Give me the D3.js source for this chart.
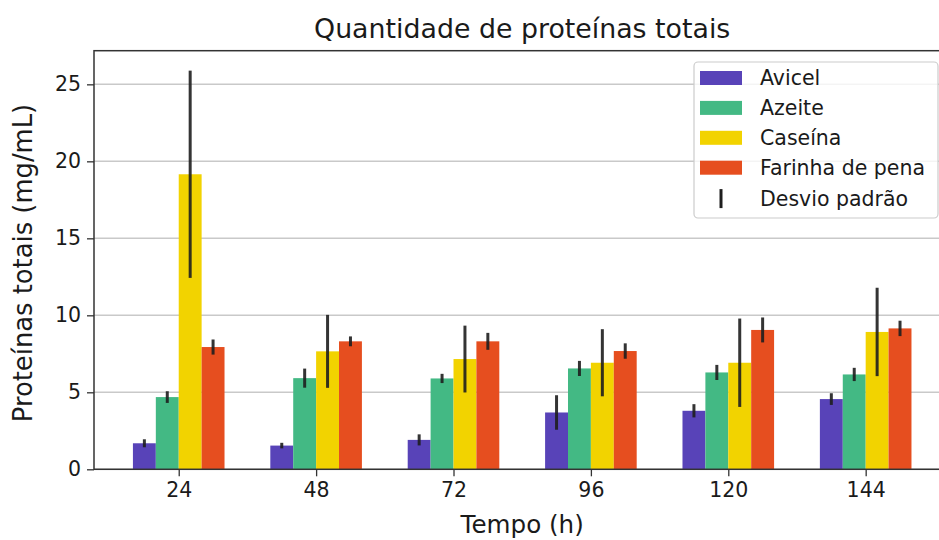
<!DOCTYPE html>
<html>
<head>
<meta charset="utf-8">
<script src="https://cdn.jsdelivr.net/npm/d3@7"></script>
<style>
  body { margin: 0; background: white; }
  text { font-family: "DejaVu Sans", sans-serif; fill: #1a1a1a; }
</style>
</head>
<body>
<svg id="fig" width="939" height="540"></svg>
<script>
'use strict';

// data
const times = [24, 48, 72, 96, 120, 144];
const series_names = ['Avicel', 'Azeite', 'Caseína', 'Farinha de pena'];
const series_colors = ['#5843b8', '#43b984', '#f2d300', '#e64e1f'];
const avicel = [1.69, 1.54, 1.91, 3.69, 3.80, 4.56];
const avicel_sd = [0.26, 0.18, 0.36, 1.12, 0.43, 0.38];
const azeite = [4.69, 5.92, 5.90, 6.55, 6.29, 6.16];
const azeite_sd = [0.38, 0.62, 0.30, 0.49, 0.49, 0.43];
const caseina = [19.16, 7.66, 7.16, 6.92, 6.92, 8.92];
const caseina_sd = [6.73, 2.37, 2.17, 2.18, 2.87, 2.87];
const farinha = [7.94, 8.31, 8.31, 7.68, 9.05, 9.15];
const farinha_sd = [0.49, 0.32, 0.55, 0.50, 0.81, 0.50];
const y_ticks = [0, 5, 10, 15, 20, 25];

const values = [avicel, azeite, caseina, farinha];
const sds = [avicel_sd, azeite_sd, caseina_sd, farinha_sd];

// bar geometry in hours (data units)
const bar_w = 4;
const offsets = [-6, -2, 2, 6];

const svg = d3.select('#fig');
const m_left = 94, m_right = 950.4, m_top = 50.7, m_bottom = 469.3;

// build a flat list for d3
const datalist = [];
for (let s = 0; s < series_names.length; s++) {
    for (let i = 0; i < times.length; i++) {
        datalist.push({
            s: s,
            t: times[i],
            val: values[s][i],
            sd: sds[s][i]
        });
    }
}

const x_lo = times[0] - 8, x_hi = times[times.length - 1] + 8;
const x_pad = (x_hi - x_lo) * 0.05;
const x = d3.scaleLinear()
    .domain([x_lo - x_pad, x_hi + x_pad])
    .range([m_left, m_right]);

const y_max = d3.max(datalist, d => d.val + d.sd) * 1.05;
const y = d3.scaleLinear()
    .domain([0, y_max])
    .range([m_bottom, m_top]);

// grid
svg.append('g')
    .selectAll('line')
    .data(y_ticks)
    .enter()
    .append('line')
    .attr('x1', m_left)
    .attr('x2', m_right)
    .attr('y1', d => y(d))
    .attr('y2', d => y(d))
    .attr('stroke', '#c9c9c9')
    .attr('stroke-width', 1.5);

// bars
svg.append('g')
    .selectAll('rect')
    .data(datalist)
    .enter()
    .append('rect')
    .attr('x', d => x(d.t + offsets[d.s] - bar_w / 2))
    .attr('width', d => x(d.t + offsets[d.s] + bar_w / 2) - x(d.t + offsets[d.s] - bar_w / 2))
    .attr('y', d => y(d.val))
    .attr('height', d => y(0) - y(d.val))
    .attr('fill', d => series_colors[d.s]);

// error bars
svg.append('g')
    .selectAll('line')
    .data(datalist)
    .enter()
    .append('line')
    .attr('x1', d => x(d.t + offsets[d.s]))
    .attr('x2', d => x(d.t + offsets[d.s]))
    .attr('y1', d => y(d.val - d.sd))
    .attr('y2', d => y(d.val + d.sd))
    .attr('stroke', '#1e1e1e')
    .attr('stroke-opacity', 0.9)
    .attr('stroke-width', 3);

// frame
svg.append('rect')
    .attr('x', m_left)
    .attr('y', m_top)
    .attr('width', m_right - m_left)
    .attr('height', m_bottom - m_top)
    .attr('fill', 'none')
    .attr('stroke', '#333')
    .attr('stroke-width', 1.5);

// y axis
const y_axis = svg.append('g')
    .attr('transform', 'translate(' + m_left + ',0)')
    .call(d3.axisLeft(y).tickValues(y_ticks).tickSize(7).tickPadding(6));
y_axis.select('.domain').remove();
y_axis.selectAll('.tick line').attr('stroke', '#333').attr('stroke-width', 1.3);
y_axis.selectAll('.tick text')
    .attr('font-size', 20.5)
    .attr('font-family', '"DejaVu Sans", sans-serif')
    .attr('fill', '#1a1a1a');

// x axis
const x_axis = svg.append('g')
    .attr('transform', 'translate(0,' + m_bottom + ')')
    .call(d3.axisBottom(x).tickValues(times).tickFormat(d3.format('d')).tickSize(7).tickPadding(6));
x_axis.select('.domain').remove();
x_axis.selectAll('.tick line').attr('stroke', '#333').attr('stroke-width', 1.3);
x_axis.selectAll('.tick text')
    .attr('font-size', 20.5)
    .attr('font-family', '"DejaVu Sans", sans-serif')
    .attr('fill', '#1a1a1a');

// title and axis labels
svg.append('text')
    .attr('x', (m_left + m_right) / 2)
    .attr('y', 38)
    .attr('text-anchor', 'middle')
    .attr('font-size', 26.8)
    .text('Quantidade de proteínas totais');
svg.append('text')
    .attr('x', (m_left + m_right) / 2)
    .attr('y', 533)
    .attr('text-anchor', 'middle')
    .attr('font-size', 24.6)
    .text('Tempo (h)');
svg.append('text')
    .attr('transform', 'translate(32,' + 263 + ') rotate(-90)')
    .attr('text-anchor', 'middle')
    .attr('font-size', 25.8)
    .text('Proteínas totais (mg/mL)');

// legend
const lg = svg.append('g').attr('class', 'legend');
lg.append('rect')
    .attr('x', 694)
    .attr('y', 62)
    .attr('width', 244)
    .attr('height', 156)
    .attr('rx', 4)
    .attr('fill', 'white')
    .attr('fill-opacity', 0.8)
    .attr('stroke', '#cccccc')
    .attr('stroke-width', 1.2);
const row_h = 29.9;
const row0 = 78;
for (let s = 0; s < series_names.length; s++) {
    const cy = row0 + s * row_h;
    lg.append('rect')
        .attr('x', 700)
        .attr('y', cy - 7)
        .attr('width', 42)
        .attr('height', 14)
        .attr('fill', series_colors[s]);
    lg.append('text')
        .attr('x', 760)
        .attr('y', cy)
        .attr('dominant-baseline', 'central')
        .attr('font-size', 20.5)
        .text(series_names[s]);
}
const cy_sd = row0 + 4 * row_h + 1;
lg.append('line')
    .attr('x1', 721)
    .attr('x2', 721)
    .attr('y1', cy_sd - 9.5)
    .attr('y2', cy_sd + 9.5)
    .attr('stroke', '#1e1e1e')
    .attr('stroke-width', 3);
lg.append('text')
    .attr('x', 760)
    .attr('y', cy_sd)
    .attr('dominant-baseline', 'central')
    .attr('font-size', 20.5)
    .text('Desvio padrão');
</script>
</body>
</html>
